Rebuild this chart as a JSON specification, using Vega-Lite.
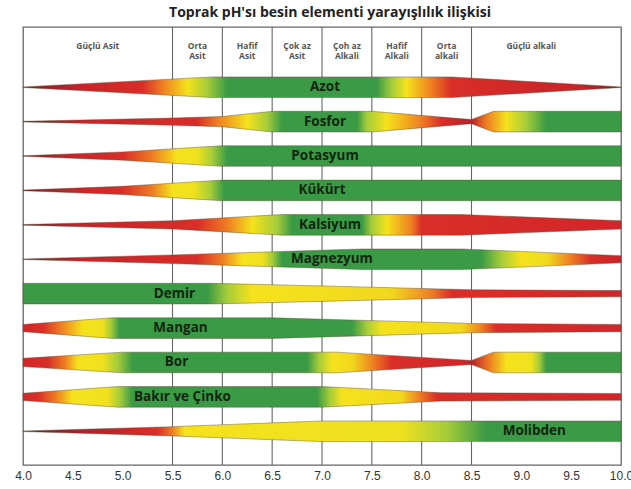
{
  "$schema": "https://vega.github.io/schema/vega-lite/v6.json",
  "width": 598,
  "height": 438,
  "autosize": "none",
  "padding": {"left": 23, "top": 27, "right": 10, "bottom": 24},
  "background": "white",
  "title": {"text": "Toprak pH'sı besin elementi yarayışlılık ilişkisi", "fontSize": 14, "fontWeight": "bold", "font": "Open Sans", "color": "#222222", "offset": 6, "anchor": "middle", "dx": 8},
  "config": {
    "view": {"stroke": "#666666", "strokeWidth": 1.3, "fill": "white"},
    "axisX": {"labelFlush": false, "labelOverlap": false, "ticks": false, "domain": false, "grid": false, "labelFontSize": 12, "labelFont": "Liberation Sans", "labelColor": "#333333", "labelPadding": 5, "title": null}
  },
  "datasets": {
    "bands": [
      {"n": "Azot", "ph": 4, "lo": 0.991, "hi": 1.009},
      {"n": "Azot", "ph": 5.9, "lo": 0.7, "hi": 1.3},
      {"n": "Azot", "ph": 8.3, "lo": 0.7, "hi": 1.3},
      {"n": "Azot", "ph": 10, "lo": 0.991, "hi": 1.009},
      {"n": "Fosfor", "ph": 4, "lo": 1.991, "hi": 2.009},
      {"n": "Fosfor", "ph": 5.5, "lo": 1.895, "hi": 2.105},
      {"n": "Fosfor", "ph": 6.0, "lo": 1.85, "hi": 2.15},
      {"n": "Fosfor", "ph": 6.5, "lo": 1.7, "hi": 2.3},
      {"n": "Fosfor", "ph": 7.5, "lo": 1.7, "hi": 2.3},
      {"n": "Fosfor", "ph": 8.5, "lo": 1.94, "hi": 2.06},
      {"n": "Fosfor", "ph": 8.72, "lo": 1.7, "hi": 2.3},
      {"n": "Fosfor", "ph": 10, "lo": 1.7, "hi": 2.3},
      {"n": "Potasyum", "ph": 4, "lo": 2.991, "hi": 3.009},
      {"n": "Potasyum", "ph": 5.0, "lo": 2.88, "hi": 3.12},
      {"n": "Potasyum", "ph": 5.5, "lo": 2.79, "hi": 3.21},
      {"n": "Potasyum", "ph": 6.0, "lo": 2.7, "hi": 3.3},
      {"n": "Potasyum", "ph": 10, "lo": 2.7, "hi": 3.3},
      {"n": "Kükürt", "ph": 4, "lo": 3.991, "hi": 4.009},
      {"n": "Kükürt", "ph": 5.0, "lo": 3.88, "hi": 4.12},
      {"n": "Kükürt", "ph": 5.5, "lo": 3.79, "hi": 4.21},
      {"n": "Kükürt", "ph": 6.0, "lo": 3.7, "hi": 4.3},
      {"n": "Kükürt", "ph": 10, "lo": 3.7, "hi": 4.3},
      {"n": "Kalsiyum", "ph": 4, "lo": 4.991, "hi": 5.009},
      {"n": "Kalsiyum", "ph": 5.5, "lo": 4.88, "hi": 5.12},
      {"n": "Kalsiyum", "ph": 6.6, "lo": 4.7, "hi": 5.3},
      {"n": "Kalsiyum", "ph": 8.4, "lo": 4.7, "hi": 5.3},
      {"n": "Kalsiyum", "ph": 10, "lo": 4.88, "hi": 5.12},
      {"n": "Magnezyum", "ph": 4, "lo": 5.991, "hi": 6.009},
      {"n": "Magnezyum", "ph": 5.5, "lo": 5.874, "hi": 6.126},
      {"n": "Magnezyum", "ph": 6.5, "lo": 5.784, "hi": 6.216},
      {"n": "Magnezyum", "ph": 7.4, "lo": 5.7, "hi": 6.3},
      {"n": "Magnezyum", "ph": 8.4, "lo": 5.7, "hi": 6.3},
      {"n": "Magnezyum", "ph": 10, "lo": 5.895, "hi": 6.105},
      {"n": "Demir", "ph": 4, "lo": 6.7, "hi": 7.3},
      {"n": "Demir", "ph": 5.9, "lo": 6.7, "hi": 7.3},
      {"n": "Demir", "ph": 7.0, "lo": 6.775, "hi": 7.225},
      {"n": "Demir", "ph": 8.5, "lo": 6.886, "hi": 7.114},
      {"n": "Demir", "ph": 10, "lo": 6.91, "hi": 7.09},
      {"n": "Mangan", "ph": 4, "lo": 7.895, "hi": 8.105},
      {"n": "Mangan", "ph": 4.9, "lo": 7.7, "hi": 8.3},
      {"n": "Mangan", "ph": 6.5, "lo": 7.7, "hi": 8.3},
      {"n": "Mangan", "ph": 8.5, "lo": 7.865, "hi": 8.135},
      {"n": "Mangan", "ph": 10, "lo": 7.895, "hi": 8.105},
      {"n": "Bor", "ph": 4, "lo": 8.88, "hi": 9.12},
      {"n": "Bor", "ph": 5.0, "lo": 8.7, "hi": 9.3},
      {"n": "Bor", "ph": 7.15, "lo": 8.7, "hi": 9.3},
      {"n": "Bor", "ph": 8.5, "lo": 8.94, "hi": 9.06},
      {"n": "Bor", "ph": 8.72, "lo": 8.7, "hi": 9.3},
      {"n": "Bor", "ph": 10, "lo": 8.7, "hi": 9.3},
      {"n": "Bakır ve Çinko", "ph": 4, "lo": 9.895, "hi": 10.105},
      {"n": "Bakır ve Çinko", "ph": 4.95, "lo": 9.7, "hi": 10.3},
      {"n": "Bakır ve Çinko", "ph": 7.0, "lo": 9.7, "hi": 10.3},
      {"n": "Bakır ve Çinko", "ph": 8.2, "lo": 9.88, "hi": 10.12},
      {"n": "Bakır ve Çinko", "ph": 10, "lo": 9.901, "hi": 10.099},
      {"n": "Molibden", "ph": 4, "lo": 10.991, "hi": 11.009},
      {"n": "Molibden", "ph": 5.5, "lo": 10.865, "hi": 11.135},
      {"n": "Molibden", "ph": 7.0, "lo": 10.7, "hi": 11.3},
      {"n": "Molibden", "ph": 10, "lo": 10.7, "hi": 11.3}
    ],
    "labels": [
      {"n": "Azot", "ph": 7.03, "k": 1},
      {"n": "Fosfor", "ph": 7.03, "k": 2},
      {"n": "Potasyum", "ph": 7.03, "k": 3},
      {"n": "Kükürt", "ph": 7.0, "k": 4},
      {"n": "Kalsiyum", "ph": 7.08, "k": 5},
      {"n": "Magnezyum", "ph": 7.1, "k": 6},
      {"n": "Demir", "ph": 5.52, "k": 7},
      {"n": "Mangan", "ph": 5.58, "k": 8},
      {"n": "Bor", "ph": 5.54, "k": 9},
      {"n": "Bakır ve Çinko", "ph": 5.6, "k": 10},
      {"n": "Molibden", "ph": 9.13, "k": 11}
    ],
    "header": [
      {"lab": "Güçlü Asit", "ph": 4.75},
      {"lab": "Orta\nAsit", "ph": 5.75},
      {"lab": "Hafif\nAsit", "ph": 6.25},
      {"lab": "Çok az\nAsit", "ph": 6.75},
      {"lab": "Çoh az\nAlkali", "ph": 7.25},
      {"lab": "Hafif\nAlkali", "ph": 7.75},
      {"lab": "Orta\nalkali", "ph": 8.25},
      {"lab": "Güçlü alkali", "ph": 9.1}
    ],
    "grid": [{"ph": 5.5}, {"ph": 6.0}, {"ph": 6.5}, {"ph": 7.0}, {"ph": 7.5}, {"ph": 8.0}, {"ph": 8.5}]
  },
  "encoding": {
    "x": {"field": "ph", "type": "quantitative", "scale": {"domain": [4, 10], "nice": false, "zero": false},
      "axis": {"values": [4, 4.5, 5, 5.5, 6, 6.5, 7, 7.5, 8, 8.5, 9, 9.5, 10], "format": ".1f", "title": null}}
  },
  "layer": [
    {"data": {"name": "grid"}, "mark": {"type": "rule", "color": "#666666", "strokeWidth": 1.1}, "encoding": {}},
    {"data": {"values": [{}]}, "mark": {"type": "rule", "color": "#666666", "strokeWidth": 1.1},
      "encoding": {"x": {"datum": 4}, "x2": {"datum": 10},
        "y": {"datum": 0.413, "type": "quantitative", "scale": {"domain": [-0.75, 11.98], "reverse": true, "nice": false, "zero": false}, "axis": null}}},
    {"data": {"name": "header"}, "mark": {"type": "text", "fontSize": 8.5, "fontWeight": "bold", "font": "Open Sans", "color": "#555555", "lineBreak": "\n", "lineHeight": 10.5, "baseline": "middle"},
      "encoding": {"text": {"field": "lab"},
        "y": {"datum": -0.2, "type": "quantitative", "scale": {"domain": [-0.75, 11.98], "reverse": true, "nice": false, "zero": false}, "axis": null}}},
    {"data": {"name": "bands"}, "transform": [{"filter": {"field": "n", "equal": "Azot"}}],
      "mark": {"type": "area", "stroke": "#5a4a30", "strokeWidth": 0.7, "strokeOpacity": 0.6,
        "color": {"gradient": "linear", "x1": 0, "y1": 0, "x2": 1, "y2": 0, "stops": [
          {"offset": 0, "color": "#7a1e22"}, {"offset": 0.1, "color": "#c8232a"}, {"offset": 0.2, "color": "#d92e28"},
          {"offset": 0.2333, "color": "#ee7d23"}, {"offset": 0.275, "color": "#f5e21c"}, {"offset": 0.3083, "color": "#a6cc3a"},
          {"offset": 0.3417, "color": "#3a9a45"}, {"offset": 0.5917, "color": "#3a9a45"}, {"offset": 0.6167, "color": "#a6cc3a"},
          {"offset": 0.6417, "color": "#f5e21c"}, {"offset": 0.6833, "color": "#ee7d23"}, {"offset": 0.7167, "color": "#d92e28"},
          {"offset": 0.9333, "color": "#c8232a"}, {"offset": 1, "color": "#7a1e22"}]}},
      "encoding": {"y": {"field": "lo", "type": "quantitative", "stack": null, "scale": {"domain": [-0.75, 11.98], "reverse": true, "nice": false, "zero": false}, "axis": null}, "y2": {"field": "hi"}}},
    {"data": {"name": "bands"}, "transform": [{"filter": {"field": "n", "equal": "Fosfor"}}],
      "mark": {"type": "area", "stroke": "#5a4a30", "strokeWidth": 0.7, "strokeOpacity": 0.6,
        "color": {"gradient": "linear", "x1": 0, "y1": 0, "x2": 1, "y2": 0, "stops": [
          {"offset": 0, "color": "#7a1e22"}, {"offset": 0.1, "color": "#c8232a"}, {"offset": 0.2917, "color": "#d92e28"},
          {"offset": 0.325, "color": "#ee7d23"}, {"offset": 0.375, "color": "#f5e21c"}, {"offset": 0.4083, "color": "#a6cc3a"},
          {"offset": 0.4333, "color": "#3a9a45"}, {"offset": 0.5583, "color": "#3a9a45"}, {"offset": 0.575, "color": "#a6cc3a"},
          {"offset": 0.6083, "color": "#f5e21c"}, {"offset": 0.6667, "color": "#ee7d23"}, {"offset": 0.7, "color": "#d92e28"},
          {"offset": 0.75, "color": "#b8202a"}, {"offset": 0.775, "color": "#ee7d23"}, {"offset": 0.8083, "color": "#f5e21c"},
          {"offset": 0.8417, "color": "#a6cc3a"}, {"offset": 0.875, "color": "#3a9a45"}, {"offset": 1, "color": "#3a9a45"}]}},
      "encoding": {"y": {"field": "lo", "type": "quantitative", "stack": null, "scale": {"domain": [-0.75, 11.98], "reverse": true, "nice": false, "zero": false}, "axis": null}, "y2": {"field": "hi"}}},
    {"data": {"name": "bands"}, "transform": [{"filter": {"field": "n", "equal": "Potasyum"}}],
      "mark": {"type": "area", "stroke": "#5a4a30", "strokeWidth": 0.7, "strokeOpacity": 0.6,
        "color": {"gradient": "linear", "x1": 0, "y1": 0, "x2": 1, "y2": 0, "stops": [
          {"offset": 0, "color": "#7a1e22"}, {"offset": 0.0833, "color": "#c8232a"}, {"offset": 0.1667, "color": "#d92e28"},
          {"offset": 0.2167, "color": "#ee7d23"}, {"offset": 0.2583, "color": "#f5e21c"}, {"offset": 0.2917, "color": "#f0e01e"},
          {"offset": 0.3167, "color": "#a6cc3a"}, {"offset": 0.3417, "color": "#3a9a45"}, {"offset": 1, "color": "#3a9a45"}]}},
      "encoding": {"y": {"field": "lo", "type": "quantitative", "stack": null, "scale": {"domain": [-0.75, 11.98], "reverse": true, "nice": false, "zero": false}, "axis": null}, "y2": {"field": "hi"}}},
    {"data": {"name": "bands"}, "transform": [{"filter": {"field": "n", "equal": "Kükürt"}}],
      "mark": {"type": "area", "stroke": "#5a4a30", "strokeWidth": 0.7, "strokeOpacity": 0.6,
        "color": {"gradient": "linear", "x1": 0, "y1": 0, "x2": 1, "y2": 0, "stops": [
          {"offset": 0, "color": "#7a1e22"}, {"offset": 0.0833, "color": "#c8232a"}, {"offset": 0.1667, "color": "#d92e28"},
          {"offset": 0.2167, "color": "#ee7d23"}, {"offset": 0.25, "color": "#f5e21c"}, {"offset": 0.2867, "color": "#f0e01e"},
          {"offset": 0.3133, "color": "#a6cc3a"}, {"offset": 0.3367, "color": "#3a9a45"}, {"offset": 1, "color": "#3a9a45"}]}},
      "encoding": {"y": {"field": "lo", "type": "quantitative", "stack": null, "scale": {"domain": [-0.75, 11.98], "reverse": true, "nice": false, "zero": false}, "axis": null}, "y2": {"field": "hi"}}},
    {"data": {"name": "bands"}, "transform": [{"filter": {"field": "n", "equal": "Kalsiyum"}}],
      "mark": {"type": "area", "stroke": "#5a4a30", "strokeWidth": 0.7, "strokeOpacity": 0.6,
        "color": {"gradient": "linear", "x1": 0, "y1": 0, "x2": 1, "y2": 0, "stops": [
          {"offset": 0, "color": "#6a2a2a"}, {"offset": 0.1, "color": "#c8232a"}, {"offset": 0.2917, "color": "#d92e28"},
          {"offset": 0.3417, "color": "#ee7d23"}, {"offset": 0.3833, "color": "#f5e21c"}, {"offset": 0.425, "color": "#a6cc3a"},
          {"offset": 0.45, "color": "#3a9a45"}, {"offset": 0.5667, "color": "#3a9a45"}, {"offset": 0.5833, "color": "#a6cc3a"},
          {"offset": 0.6083, "color": "#f5e21c"}, {"offset": 0.65, "color": "#ee7d23"}, {"offset": 0.6667, "color": "#d92e28"},
          {"offset": 1, "color": "#d3252a"}]}},
      "encoding": {"y": {"field": "lo", "type": "quantitative", "stack": null, "scale": {"domain": [-0.75, 11.98], "reverse": true, "nice": false, "zero": false}, "axis": null}, "y2": {"field": "hi"}}},
    {"data": {"name": "bands"}, "transform": [{"filter": {"field": "n", "equal": "Magnezyum"}}],
      "mark": {"type": "area", "stroke": "#5a4a30", "strokeWidth": 0.7, "strokeOpacity": 0.6,
        "color": {"gradient": "linear", "x1": 0, "y1": 0, "x2": 1, "y2": 0, "stops": [
          {"offset": 0, "color": "#6a2a2a"}, {"offset": 0.1, "color": "#c8232a"}, {"offset": 0.2917, "color": "#d92e28"},
          {"offset": 0.3333, "color": "#ee7d23"}, {"offset": 0.3667, "color": "#f5e21c"}, {"offset": 0.4, "color": "#f0e01e"},
          {"offset": 0.4167, "color": "#a6cc3a"}, {"offset": 0.4333, "color": "#3a9a45"}, {"offset": 0.7667, "color": "#3a9a45"},
          {"offset": 0.8, "color": "#a6cc3a"}, {"offset": 0.8333, "color": "#f5e21c"}, {"offset": 0.875, "color": "#f0dc1e"},
          {"offset": 0.9167, "color": "#ee7d23"}, {"offset": 0.95, "color": "#d92e28"}, {"offset": 1, "color": "#c8232a"}]}},
      "encoding": {"y": {"field": "lo", "type": "quantitative", "stack": null, "scale": {"domain": [-0.75, 11.98], "reverse": true, "nice": false, "zero": false}, "axis": null}, "y2": {"field": "hi"}}},
    {"data": {"name": "bands"}, "transform": [{"filter": {"field": "n", "equal": "Demir"}}],
      "mark": {"type": "area", "stroke": "#5a4a30", "strokeWidth": 0.7, "strokeOpacity": 0.6,
        "color": {"gradient": "linear", "x1": 0, "y1": 0, "x2": 1, "y2": 0, "stops": [
          {"offset": 0, "color": "#3a9a45"}, {"offset": 0.3083, "color": "#3a9a45"}, {"offset": 0.3417, "color": "#a6cc3a"},
          {"offset": 0.3833, "color": "#f5e21c"}, {"offset": 0.6167, "color": "#f2d81c"}, {"offset": 0.6833, "color": "#ee7d23"},
          {"offset": 0.7167, "color": "#d92e28"}, {"offset": 1, "color": "#d3252a"}]}},
      "encoding": {"y": {"field": "lo", "type": "quantitative", "stack": null, "scale": {"domain": [-0.75, 11.98], "reverse": true, "nice": false, "zero": false}, "axis": null}, "y2": {"field": "hi"}}},
    {"data": {"name": "bands"}, "transform": [{"filter": {"field": "n", "equal": "Mangan"}}],
      "mark": {"type": "area", "stroke": "#5a4a30", "strokeWidth": 0.7, "strokeOpacity": 0.6,
        "color": {"gradient": "linear", "x1": 0, "y1": 0, "x2": 1, "y2": 0, "stops": [
          {"offset": 0, "color": "#d3252a"}, {"offset": 0.0333, "color": "#d92e28"}, {"offset": 0.0633, "color": "#ee7d23"},
          {"offset": 0.1, "color": "#f5e21c"}, {"offset": 0.1333, "color": "#f0e01e"}, {"offset": 0.1467, "color": "#a6cc3a"},
          {"offset": 0.1617, "color": "#3a9a45"}, {"offset": 0.55, "color": "#3a9a45"}, {"offset": 0.575, "color": "#a6cc3a"},
          {"offset": 0.6, "color": "#f5e21c"}, {"offset": 0.7333, "color": "#f2d81c"}, {"offset": 0.7667, "color": "#ee7d23"},
          {"offset": 0.7917, "color": "#d92e28"}, {"offset": 1, "color": "#d3252a"}]}},
      "encoding": {"y": {"field": "lo", "type": "quantitative", "stack": null, "scale": {"domain": [-0.75, 11.98], "reverse": true, "nice": false, "zero": false}, "axis": null}, "y2": {"field": "hi"}}},
    {"data": {"name": "bands"}, "transform": [{"filter": {"field": "n", "equal": "Bor"}}],
      "mark": {"type": "area", "stroke": "#5a4a30", "strokeWidth": 0.7, "strokeOpacity": 0.6,
        "color": {"gradient": "linear", "x1": 0, "y1": 0, "x2": 1, "y2": 0, "stops": [
          {"offset": 0, "color": "#d3252a"}, {"offset": 0.0417, "color": "#d92e28"}, {"offset": 0.07, "color": "#ee7d23"},
          {"offset": 0.0917, "color": "#f5e21c"}, {"offset": 0.1333, "color": "#f0e01e"}, {"offset": 0.1583, "color": "#a6cc3a"},
          {"offset": 0.1833, "color": "#3a9a45"}, {"offset": 0.475, "color": "#3a9a45"}, {"offset": 0.495, "color": "#a6cc3a"},
          {"offset": 0.5167, "color": "#f5e21c"}, {"offset": 0.55, "color": "#f2d81c"}, {"offset": 0.5867, "color": "#ee7d23"},
          {"offset": 0.6167, "color": "#d92e28"}, {"offset": 0.7333, "color": "#d3252a"}, {"offset": 0.75, "color": "#b8202a"},
          {"offset": 0.78, "color": "#ee7d23"}, {"offset": 0.8083, "color": "#f5e21c"}, {"offset": 0.85, "color": "#f0e01e"},
          {"offset": 0.8633, "color": "#a6cc3a"}, {"offset": 0.875, "color": "#3a9a45"}, {"offset": 1, "color": "#3a9a45"}]}},
      "encoding": {"y": {"field": "lo", "type": "quantitative", "stack": null, "scale": {"domain": [-0.75, 11.98], "reverse": true, "nice": false, "zero": false}, "axis": null}, "y2": {"field": "hi"}}},
    {"data": {"name": "bands"}, "transform": [{"filter": {"field": "n", "equal": "Bakır ve Çinko"}}],
      "mark": {"type": "area", "stroke": "#5a4a30", "strokeWidth": 0.7, "strokeOpacity": 0.6,
        "color": {"gradient": "linear", "x1": 0, "y1": 0, "x2": 1, "y2": 0, "stops": [
          {"offset": 0, "color": "#d3252a"}, {"offset": 0.025, "color": "#d92e28"}, {"offset": 0.055, "color": "#ee7d23"},
          {"offset": 0.0833, "color": "#f5e21c"}, {"offset": 0.1417, "color": "#f0e01e"}, {"offset": 0.1617, "color": "#a6cc3a"},
          {"offset": 0.1833, "color": "#3a9a45"}, {"offset": 0.4917, "color": "#3a9a45"}, {"offset": 0.5133, "color": "#a6cc3a"},
          {"offset": 0.5333, "color": "#f5e21c"}, {"offset": 0.6333, "color": "#f2d81c"}, {"offset": 0.6633, "color": "#ee7d23"},
          {"offset": 0.6917, "color": "#d92e28"}, {"offset": 1, "color": "#d3252a"}]}},
      "encoding": {"y": {"field": "lo", "type": "quantitative", "stack": null, "scale": {"domain": [-0.75, 11.98], "reverse": true, "nice": false, "zero": false}, "axis": null}, "y2": {"field": "hi"}}},
    {"data": {"name": "bands"}, "transform": [{"filter": {"field": "n", "equal": "Molibden"}}],
      "mark": {"type": "area", "stroke": "#5a4a30", "strokeWidth": 0.7, "strokeOpacity": 0.6,
        "color": {"gradient": "linear", "x1": 0, "y1": 0, "x2": 1, "y2": 0, "stops": [
          {"offset": 0, "color": "#5a2c34"}, {"offset": 0.1167, "color": "#b8202a"}, {"offset": 0.225, "color": "#d92e28"},
          {"offset": 0.25, "color": "#ee7d23"}, {"offset": 0.27, "color": "#f5e21c"}, {"offset": 0.6333, "color": "#eee020"},
          {"offset": 0.7083, "color": "#a6cc3a"}, {"offset": 0.775, "color": "#3a9a45"}, {"offset": 1, "color": "#3a9a45"}]}},
      "encoding": {"y": {"field": "lo", "type": "quantitative", "stack": null, "scale": {"domain": [-0.75, 11.98], "reverse": true, "nice": false, "zero": false}, "axis": null}, "y2": {"field": "hi"}}},
    {"data": {"name": "labels"}, "mark": {"type": "text", "fontSize": 13.5, "fontWeight": "bold", "font": "Open Sans", "color": "#13260f", "baseline": "middle", "align": "center"},
      "encoding": {"text": {"field": "n"},
        "y": {"field": "k", "type": "quantitative", "scale": {"domain": [-0.75, 11.98], "reverse": true, "nice": false, "zero": false}, "axis": null}}}
  ]
}
